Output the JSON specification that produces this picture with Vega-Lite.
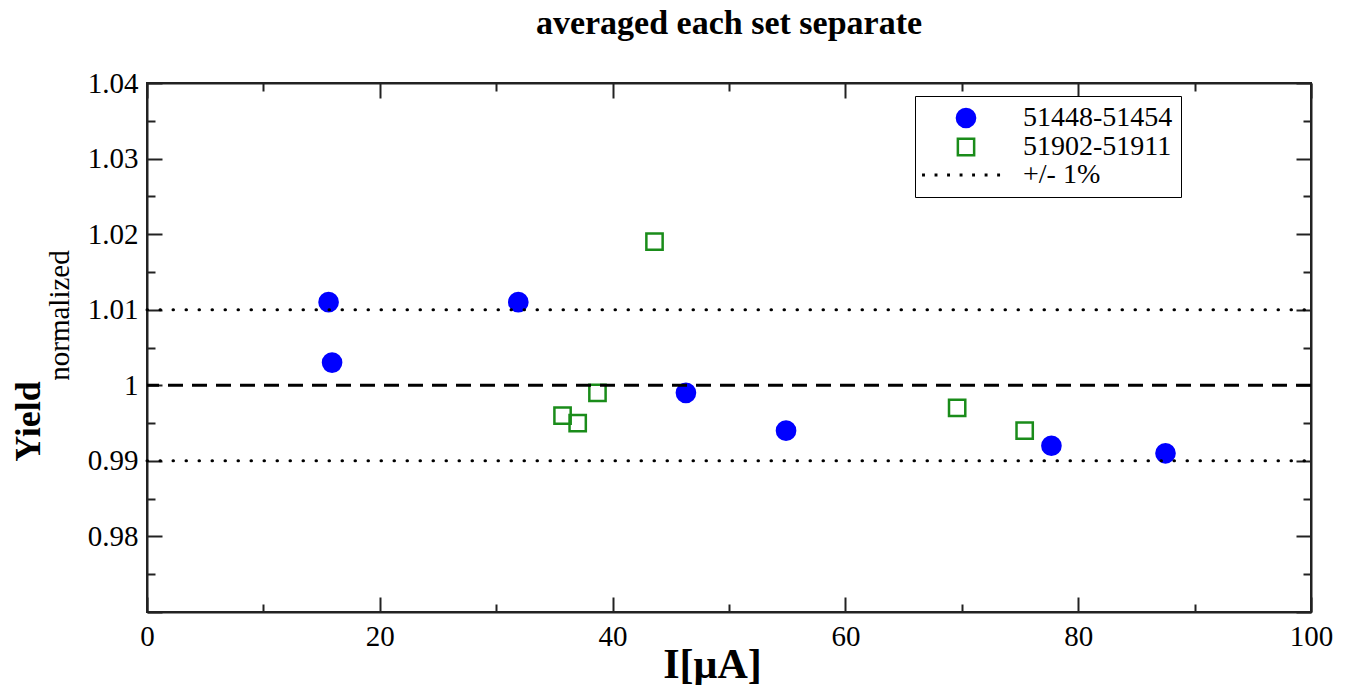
{
  "$schema": "https://vega.github.io/schema/vega-lite/v6.json",
  "width": 1164,
  "height": 529,
  "autosize": {"type": "none"},
  "padding": {"left": 147, "top": 83, "right": 41, "bottom": 73},
  "background": "white",
  "title": {"text": "averaged each set separate", "font": "Liberation Serif", "fontSize": 34, "fontWeight": "bold", "color": "black", "anchor": "middle", "offset": 28},
  "config": {
    "view": {"stroke": "#222222", "strokeWidth": 2},
    "axis": {"labelFont": "Liberation Serif", "titleFont": "Liberation Serif", "labelColor": "black", "titleColor": "black", "domainColor": "#222222", "tickColor": "#222222", "domainWidth": 2, "tickWidth": 2, "grid": false, "labelFontSize": 29, "labelFlush": false}
  },
  "datasets": {
    "pts": [
      {"I": 15.6, "Y": 1.011, "set": "51448-51454"},
      {"I": 15.9, "Y": 1.003, "set": "51448-51454"},
      {"I": 31.9, "Y": 1.011, "set": "51448-51454"},
      {"I": 46.3, "Y": 0.999, "set": "51448-51454"},
      {"I": 54.9, "Y": 0.994, "set": "51448-51454"},
      {"I": 77.7, "Y": 0.992, "set": "51448-51454"},
      {"I": 87.5, "Y": 0.991, "set": "51448-51454"},
      {"I": 35.7, "Y": 0.996, "set": "51902-51911"},
      {"I": 37.0, "Y": 0.995, "set": "51902-51911"},
      {"I": 38.7, "Y": 0.999, "set": "51902-51911"},
      {"I": 43.6, "Y": 1.019, "set": "51902-51911"},
      {"I": 69.6, "Y": 0.997, "set": "51902-51911"},
      {"I": 75.4, "Y": 0.994, "set": "51902-51911"}
    ],
    "pm": [{"Y": 1.01}, {"Y": 0.99}],
    "one": [{"Y": 1.0}]
  },
  "resolve": {"axis": {"x": "independent", "y": "independent"}},
  "layer": [
    {
      "data": {"name": "pts"},
      "mark": {"type": "point", "strokeWidth": 2.5, "opacity": 1},
      "encoding": {
        "x": {
          "field": "I", "type": "quantitative",
          "scale": {"domain": [0, 100], "nice": false, "zero": false},
          "axis": {
            "orient": "bottom",
            "values": [0, 10, 20, 30, 40, 50, 60, 70, 80, 90, 100],
            "labelExpr": "datum.value % 20 === 0 ? datum.label : ''",
            "tickSize": {"condition": {"test": "datum.value % 20 === 0", "value": -15}, "value": -8},
            "labelPadding": 25,
            "title": "I[μA]", "titleFontSize": 42, "titleFontWeight": "bold",
            "titleX": 565, "titleY": 65, "titleBaseline": "alphabetic", "titleAlign": "center"
          }
        },
        "y": {
          "field": "Y", "type": "quantitative",
          "scale": {"domain": [0.97, 1.04], "nice": false, "zero": false},
          "axis": {
            "orient": "left",
            "values": [0.97, 0.975, 0.98, 0.985, 0.99, 0.995, 1.0, 1.005, 1.01, 1.015, 1.02, 1.025, 1.03, 1.035, 1.04],
            "labelExpr": "(abs(datum.value*100 - round(datum.value*100)) < 0.01 && datum.value > 0.971) ? (abs(datum.value - 1) < 0.0001 ? '1' : format(datum.value, '.2f')) : ''",
            "tickSize": {"condition": {"test": "abs(datum.value*100 - round(datum.value*100)) < 0.01", "value": -15}, "value": -8},
            "labelPadding": 24,
            "title": "Yield", "titleFontSize": 36, "titleFontWeight": "bold",
            "titleX": -108, "titleY": 338, "titleAngle": 270, "titleAlign": "center", "titleBaseline": "alphabetic"
          }
        },
        "stroke": {
          "field": "set", "type": "nominal",
          "scale": {"domain": ["51448-51454", "51902-51911", "+/- 1%"], "range": ["#0000ff", "#1a8c1a", "#000000"]},
          "legend": {
            "title": null, "orient": "none", "legendX": 768, "legendY": 13,
            "labelFont": "Liberation Serif", "labelFontSize": 28, "labelColor": "black",
            "strokeColor": "black", "fillColor": "white", "padding": 8,
            "symbolOffset": 29, "labelOffset": 43, "rowPadding": -9,
            "symbolStrokeWidth": 2.5, "labelLimit": 400
          }
        },
        "fill": {
          "field": "set", "type": "nominal",
          "scale": {"domain": ["51448-51454", "51902-51911", "+/- 1%"], "range": ["#0000ff", "transparent", "#000000"]}
        },
        "shape": {
          "field": "set", "type": "nominal",
          "scale": {"domain": ["51448-51454", "51902-51911", "+/- 1%"], "range": ["circle", "square", "M-6.04,-0.03h0.06v0.06h-0.06z M-4.27,-0.03h0.06v0.06h-0.06z M-2.5,-0.03h0.06v0.06h-0.06z M-0.73,-0.03h0.06v0.06h-0.06z M1.04,-0.03h0.06v0.06h-0.06z M2.81,-0.03h0.06v0.06h-0.06z M4.58,-0.03h0.06v0.06h-0.06z"]}
        },
        "size": {
          "field": "set", "type": "nominal",
          "scale": {"domain": ["51448-51454", "51902-51911", "+/- 1%"], "range": [330, 200, 330]}
        }
      }
    },
    {
      "data": {"name": "pm"},
      "mark": {"type": "rule", "strokeDash": [0.5, 12.5], "strokeCap": "round", "strokeWidth": 3, "color": "black"},
      "encoding": {
        "y": {
          "field": "Y", "type": "quantitative",
          "scale": {"domain": [0.97, 1.04], "nice": false, "zero": false},
          "axis": {
            "orient": "right", "labels": false, "title": null,
            "values": [0.97, 0.975, 0.98, 0.985, 0.99, 0.995, 1.0, 1.005, 1.01, 1.015, 1.02, 1.025, 1.03, 1.035, 1.04],
            "tickSize": {"condition": {"test": "abs(datum.value*100 - round(datum.value*100)) < 0.01", "value": -15}, "value": -8}
          }
        },
        "x": {
          "datum": 0, "type": "quantitative",
          "scale": {"domain": [0, 100], "nice": false, "zero": false},
          "axis": {
            "orient": "top", "labels": false, "title": null,
            "values": [0, 10, 20, 30, 40, 50, 60, 70, 80, 90, 100],
            "tickSize": {"condition": {"test": "datum.value % 20 === 0", "value": -15}, "value": -8}
          }
        },
        "x2": {"datum": 100}
      }
    },
    {
      "data": {"name": "one"},
      "mark": {"type": "rule", "strokeDash": [15, 9], "strokeWidth": 3, "color": "black"},
      "encoding": {
        "y": {
          "field": "Y", "type": "quantitative",
          "scale": {"domain": [0.97, 1.04], "nice": false, "zero": false},
          "axis": {
            "orient": "left", "labels": false, "ticks": false, "domain": false,
            "title": "normalized", "titleFontSize": 29, "titleFontWeight": "normal",
            "titleX": -79, "titleY": 232, "titleAngle": 270, "titleAlign": "center", "titleBaseline": "alphabetic"
          }
        }
      }
    }
  ]
}
